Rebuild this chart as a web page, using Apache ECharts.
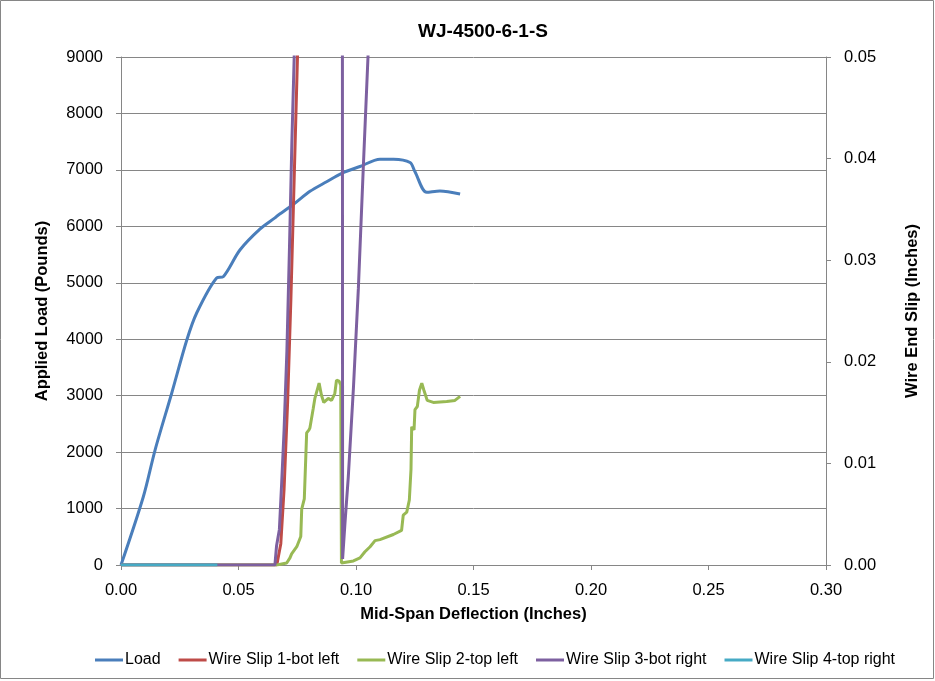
<!DOCTYPE html>
<html>
<head>
<meta charset="utf-8">
<script src="https://cdn.jsdelivr.net/npm/echarts@6/dist/echarts.min.js"></script>
<style>
  html, body { margin: 0; padding: 0; background: #fff; }
  #chart { width: 935px; height: 681px; }
</style>
</head>
<body>
<div id="chart"></div>
<script>
// [deflection (in), load (lb)]
const loadData = [[0, 0], [0.0095, 1210], [0.0145, 2037], [0.0216, 3047], [0.028, 3986],
  [0.0322, 4465], [0.0407, 5085], [0.0435, 5108], [0.0506, 5581], [0.0591, 5950],
  [0.0655, 6150], [0.0663, 6180], [0.0734, 6390], [0.0804, 6620], [0.0875, 6790],
  [0.0939, 6940], [0.1017, 7060], [0.1102, 7190], [0.116, 7190], [0.123, 7130],
  [0.1251, 6968], [0.1301, 6603], [0.1357, 6626], [0.1443, 6573]];

// [deflection (in), slip (in)] -- values above 0.05 run off the chart
const slip1 = [[0, 0], [0.0663, 0], [0.068, 0.0021], [0.0694, 0.0075], [0.0709, 0.016],
  [0.0723, 0.0262], [0.0737, 0.0381], [0.0751, 0.05], [0.0765, 0.062]];

const slip2 = [[0, 0], [0.0663, 0], [0.0705, 0.0002], [0.0719, 0.0007], [0.0726, 0.0011],
  [0.0748, 0.0018], [0.0765, 0.0028], [0.0769, 0.0055], [0.078, 0.0065], [0.079, 0.013],
  [0.08, 0.0133], [0.0804, 0.0135], [0.0818, 0.0154], [0.0825, 0.0164], [0.0843, 0.0179],
  [0.0853, 0.0167], [0.0863, 0.016], [0.0882, 0.0164], [0.0896, 0.0162], [0.091, 0.0169],
  [0.0917, 0.0182], [0.0928, 0.0181], [0.0935, 0.0177], [0.0938, 0.0002], [0.0989, 0.0004],
  [0.1017, 0.0007], [0.1038, 0.0013], [0.106, 0.0018], [0.1081, 0.0024], [0.1102, 0.0025],
  [0.1159, 0.003], [0.1194, 0.0034], [0.1201, 0.0049], [0.1216, 0.0052], [0.1227, 0.0064],
  [0.1234, 0.0094], [0.1237, 0.0136], [0.1247, 0.0133], [0.1251, 0.0153], [0.1261, 0.0156],
  [0.127, 0.0172], [0.128, 0.0179], [0.1289, 0.0172], [0.1303, 0.0162], [0.1329, 0.016],
  [0.1386, 0.0161], [0.1421, 0.0162], [0.1443, 0.0166]];

const slip3 = [[0, 0], [0.0655, 0], [0.0662, 0.0019], [0.0674, 0.0035], [0.0684, 0.0082],
  [0.0694, 0.0133], [0.0706, 0.0211], [0.0717, 0.0313], [0.0727, 0.0415], [0.0737, 0.05],
  [0.0748, 0.062], [0.0942, 0.062], [0.0943, 0.0006], [0.0946, 0.0006], [0.0953, 0.0041],
  [0.0967, 0.0086], [0.0989, 0.0174], [0.101, 0.0272], [0.1031, 0.0391], [0.1051, 0.05],
  [0.1062, 0.058]];

const slip4 = [[0, 0], [0.041, 0]];

const xTicks = { min: 0, max: 0.3, step: 0.05 };
const loadTicks = { min: 0, max: 9000, step: 1000 };
const slipTicks = { min: 0, max: 0.05, step: 0.01 };

const font = 'Liberation Sans';
const axisGray = '#868686';

const chart = echarts.init(document.getElementById('chart'));

function lineSeries(name, data, color, yIdx, smooth) {
  return {
    name: name,
    type: 'line',
    data: data,
    yAxisIndex: yIdx,
    showSymbol: false,
    symbol: 'none',
    smooth: smooth || false,
    clip: true,
    lineStyle: { color: color, width: 3 },
    itemStyle: { color: color },
    animation: false
  };
}

const axisTitle = { fontFamily: font, fontSize: 16.5, fontWeight: 'bold', color: '#000' };

const option = {
  backgroundColor: '#fff',
  textStyle: { fontFamily: font },
  title: {
    text: 'WJ-4500-6-1-S',
    left: 478,
    top: 17,
    textAlign: 'center',
    textStyle: { fontFamily: font, fontSize: 19, fontWeight: 'bold', color: '#000' }
  },
  legend: {
    bottom: 8,
    left: 90,
    icon: 'rect',
    itemWidth: 28,
    itemHeight: 3,
    itemGap: 18,
    textStyle: { fontFamily: font, fontSize: 16, color: '#000', padding: [0, 0, 0, -3] },
    data: ['Load', 'Wire Slip 1-bot left', 'Wire Slip 2-top left', 'Wire Slip 3-bot right', 'Wire Slip 4-top right']
  },
  graphic: [{
    type: 'rect',
    shape: { x: 0.5, y: 0.5, width: 933, height: 678 },
    style: { fill: 'none', stroke: axisGray, lineWidth: 1 },
    silent: true
  }],
  grid: { left: 121, right: 109, top: 57, bottom: 116 },
  xAxis: {
    type: 'value',
    min: xTicks.min,
    max: xTicks.max,
    interval: xTicks.step,
    name: 'Mid-Span Deflection (Inches)',
    nameLocation: 'middle',
    nameGap: 41,
    nameTextStyle: axisTitle,
    axisLine: { onZero: false, lineStyle: { color: axisGray } },
    axisTick: { show: true, length: 5, lineStyle: { color: axisGray } },
    axisLabel: { fontSize: 16.5, color: '#000', margin: 17, formatter: (v) => v.toFixed(2) },
    splitLine: { show: false }
  },
  yAxis: [{
    type: 'value',
    min: loadTicks.min,
    max: loadTicks.max,
    interval: loadTicks.step,
    name: 'Applied Load (Pounds)',
    nameLocation: 'middle',
    nameGap: 70,
    nameTextStyle: axisTitle,
    axisLine: { show: true, lineStyle: { color: axisGray } },
    axisTick: { show: true, length: 5, lineStyle: { color: axisGray } },
    axisLabel: { fontSize: 16.5, color: '#000', margin: 18, formatter: (v) => String(v) },
    splitLine: { show: true, lineStyle: { color: axisGray, width: 1 } }
  }, {
    type: 'value',
    min: slipTicks.min,
    max: slipTicks.max,
    interval: slipTicks.step,
    position: 'right',
    name: 'Wire End Slip (Inches)',
    nameLocation: 'middle',
    nameGap: 78,
    nameRotate: 90,
    nameTextStyle: axisTitle,
    axisLine: { show: true, lineStyle: { color: axisGray } },
    axisTick: { show: true, length: 5, lineStyle: { color: axisGray } },
    axisLabel: { fontSize: 16.5, color: '#000', margin: 18, formatter: (v) => v.toFixed(2) },
    splitLine: { show: false }
  }],
  series: [
    lineSeries('Load', loadData, '#4a7ebb', 0, 0.3),
    lineSeries('Wire Slip 1-bot left', slip1, '#be4b48', 1),
    lineSeries('Wire Slip 2-top left', slip2, '#98b954', 1),
    lineSeries('Wire Slip 3-bot right', slip3, '#7d60a0', 1),
    lineSeries('Wire Slip 4-top right', slip4, '#46aac5', 1)
  ]
};

chart.setOption(option);
</script>
</body>
</html>
